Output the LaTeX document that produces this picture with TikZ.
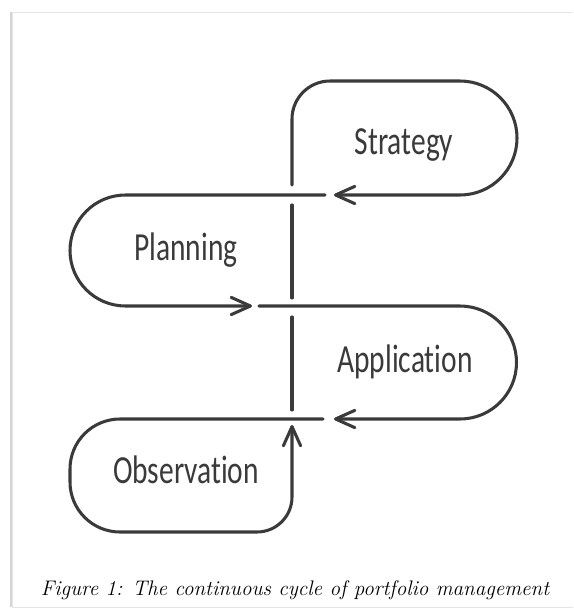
\documentclass[tikz,border=0pt]{standalone}
\usepackage{fontspec}
\newfontfamily\sketchfont[FakeStretch=0.74, Ligatures=NoCommon]{Carlito}
\usetikzlibrary{arrows.meta}
\definecolor{ink}{HTML}{3A3A3A}
\definecolor{cardline}{HTML}{E4E4E4}
\definecolor{cardedge}{HTML}{D6D6D6}

\begin{document}
\begin{tikzpicture}[
  ink,
  loop/.style={draw=ink, line width=2.6pt, line cap=round, line join=round},
  back/.style={loop, -{Straight Barb[length=5.8mm, width=5.2mm, round]}},
  stage/.style={font=\sketchfont\fontsize{34}{36}\selectfont, text=ink,
                inner sep=0pt, anchor=base},
]
\useasboundingbox (0,0) rectangle (17.19,-18.27);

% ---- card ------------------------------------------------------------------
\draw[cardline, line width=0.6pt] (17.19,-0.36) -- (0.36,-0.36) -- (0.36,-18.21)
  -- (17.19,-18.21);
\draw[cardedge, line width=1.4pt] (0.33,-0.36) -- (0.33,-18.21);

% ---- stages ----------------------------------------------------------------
\node[stage] (strategy) at (12.12,-4.62) {Strategy};
\node[stage] (planning) at (5.58,-7.80) {Planning};
\node[stage] (application) at (12.15,-11.16) {Application};
\node[stage] (observation) at (5.58,-14.49) {Observation};

% ---- where the loops hand over ---------------------------------------------
\coordinate (strategy-in) at (10.02,-5.85);
\coordinate (planning-in) at (7.56,-9.18);
\coordinate (application-in) at (10.02,-12.57);
\coordinate (observation-in) at (8.76,-12.75);

% ---- loops -----------------------------------------------------------------
\draw[back] (8.76,-5.55) -- (8.76,-3.57)
  arc[start angle=180, end angle=90, radius=1.14] -- (13.80,-2.43)
  arc[start angle=90, end angle=-90, radius=1.71] -- (strategy-in);
\draw[back] (9.75,-5.85) -- (3.765,-5.85)
  arc[start angle=90, end angle=270, radius=1.665] -- (planning-in);
\draw[back] (7.77,-9.18) -- (13.80,-9.18)
  arc[start angle=90, end angle=-90, radius=1.695] -- (application-in);
\draw[back] (9.69,-12.57) -- (3.60,-12.57)
  arc[start angle=90, end angle=180, radius=1.5] -- (2.10,-14.46)
  arc[start angle=180, end angle=270, radius=1.5] -- (7.71,-15.96)
  arc[start angle=-90, end angle=0, radius=1.05] -- (observation-in);

% spine, broken where the loops cross it
\draw[loop] (8.76,-6.15) -- (8.76,-8.94);
\draw[loop] (8.76,-9.51) -- (8.76,-12.30);

% ---- caption ---------------------------------------------------------------
\node[anchor=base, font=\itshape\fontsize{18}{21}\selectfont, text=black]
  (caption) at (8.85,-17.85)
  {Figure 1: The continuous cycle of portfolio management};

\end{tikzpicture}
\end{document}
